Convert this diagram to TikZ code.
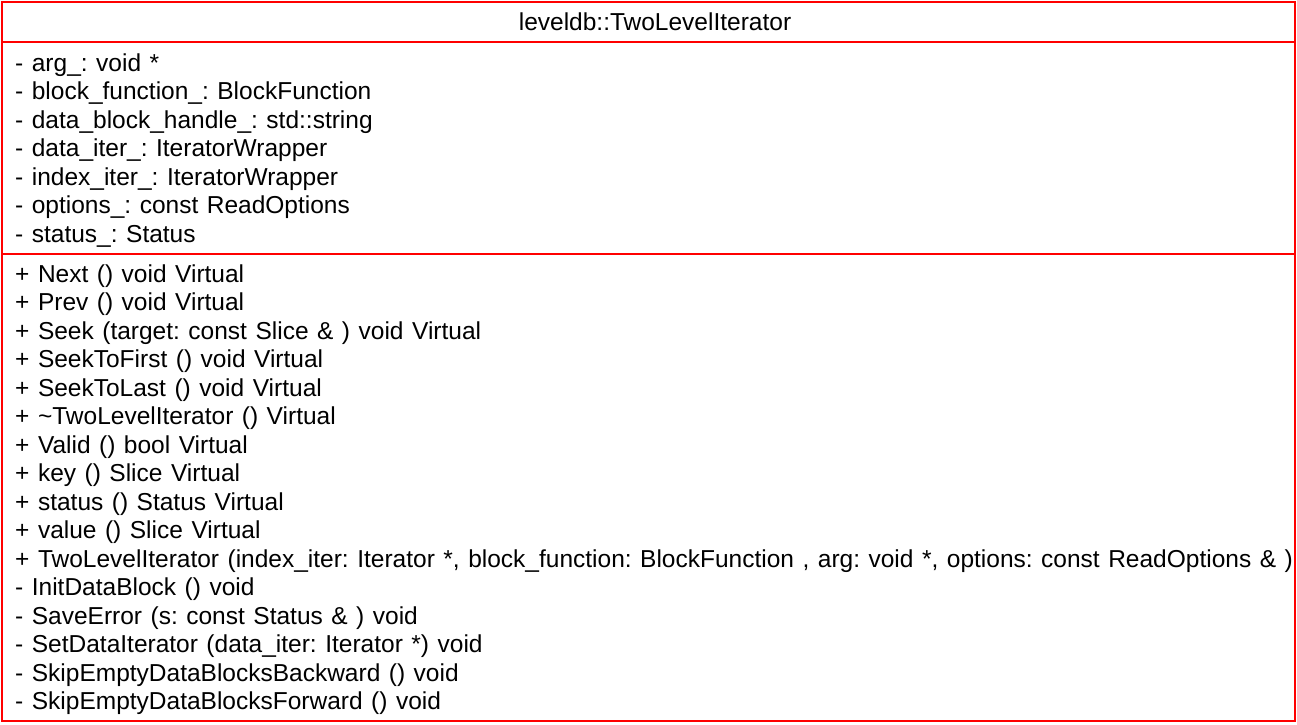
\documentclass[tikz,border=0pt]{standalone}
\usepackage{fontspec}
\setmainfont[WordSpace=1.25]{Liberation Sans}
\frenchspacing
\begin{document}
\begin{tikzpicture}[x=1pt,y=-1pt,
  umlline/.style={draw={rgb,255:red,255;green,0;blue,0},line width=2pt},
  member/.style={anchor=base west,inner sep=0pt,font=\fontsize{24.5}{28.5}\selectfont,text=black},
  title/.style={anchor=base,inner sep=0pt,font=\fontsize{24.5}{28.5}\selectfont,text=black}]
\useasboundingbox (0,0) rectangle (1297,724);
\begin{scope}
\clip (0,0) rectangle (1297,724);
\node[title] (name) at (655,30) {leveldb::TwoLevelIterator};
% attributes
\node[member] (a1) at (15,71.0) {- arg\_: void *};
\node[member] (a2) at (15,99.5) {- block\_function\_: BlockFunction};
\node[member] (a3) at (15,128.0) {- data\_block\_handle\_: std::string};
\node[member] (a4) at (15,156.5) {- data\_iter\_: IteratorWrapper};
\node[member] (a5) at (15,185.0) {- index\_iter\_: IteratorWrapper};
\node[member] (a6) at (15,213.5) {- options\_: const ReadOptions};
\node[member] (a7) at (15,242.0) {- status\_: Status};
% methods
\node[member] (m1) at (15,282.0) {+ Next () void Virtual};
\node[member] (m2) at (15,310.5) {+ Prev () void Virtual};
\node[member] (m3) at (15,339.0) {+ Seek (target: const Slice \& ) void Virtual};
\node[member] (m4) at (15,367.5) {+ SeekToFirst () void Virtual};
\node[member] (m5) at (15,396.0) {+ SeekToLast () void Virtual};
\node[member] (m6) at (15,424.5) {+ \textasciitilde TwoLevelIterator () Virtual};
\node[member] (m7) at (15,453.0) {+ Valid () bool Virtual};
\node[member] (m8) at (15,481.5) {+ key () Slice Virtual};
\node[member] (m9) at (15,510.0) {+ status () Status Virtual};
\node[member] (m10) at (15,538.5) {+ value () Slice Virtual};
\node[member] (m11) at (15,567.0) {+ TwoLevelIterator (index\_iter: Iterator *, block\_function: BlockFunction , arg: void *, options: const ReadOptions \& )};
\node[member] (m12) at (15,595.5) {- InitDataBlock () void};
\node[member] (m13) at (15,624.0) {- SaveError (s: const Status \& ) void};
\node[member] (m14) at (15,652.5) {- SetDataIterator (data\_iter: Iterator *) void};
\node[member] (m15) at (15,681.0) {- SkipEmptyDataBlocksBackward () void};
\node[member] (m16) at (15,709.5) {- SkipEmptyDataBlocksForward () void};
% frame
\coordinate (tl) at (1.5,1.5);
\coordinate (br) at (1295,720.8);
\draw[umlline] (tl) rectangle (br);
\coordinate (s1l) at (1.5,41.7);
\coordinate (s1r) at (1295,41.7);
\coordinate (s2l) at (1.5,253.8);
\coordinate (s2r) at (1295,253.8);
\draw[umlline] (s1l) -- (s1r);
\draw[umlline] (s2l) -- (s2r);
\end{scope}
\end{tikzpicture}
\end{document}
